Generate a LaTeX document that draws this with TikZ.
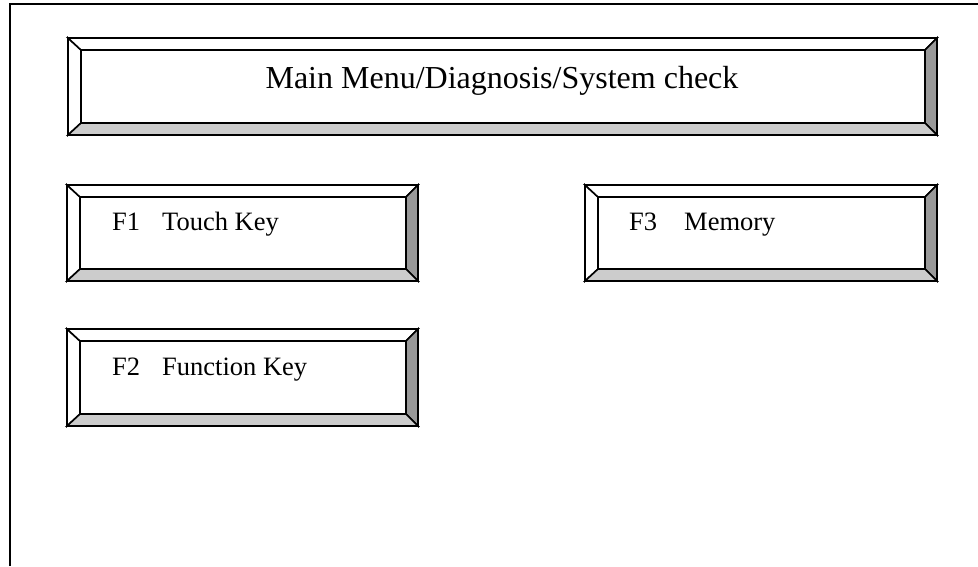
\documentclass[tikz,border=0pt]{standalone}
\usepackage{fontspec}
\setmainfont{Liberation Serif}
\usetikzlibrary{fit}
\tikzset{
  edge/.style={draw=black, line width=1.6pt, line join=miter},
  lightface/.style={edge, fill=white},
  shadeface/.style={edge, fill=black!20},
  darkface/.style={edge, fill=black!40},
  titletext/.style={font=\fontsize{32}{32}\selectfont, inner sep=0pt, anchor=base},
  keytext/.style={font=\fontsize{26.5}{26.5}\selectfont, inner sep=0pt, anchor=base west},
}
% #1 name, #2 x1, #3 y1, #4 x2, #5 y2
\newcommand\bevelbox[5]{%
  \path[lightface] (#2,#3) -- (#2+13,#3+12) -- (#2+13,#5-12) -- (#2,#5) -- cycle;
  \path[lightface] (#2,#3) -- (#4,#3) -- (#4-12,#3+12) -- (#2+13,#3+12) -- cycle;
  \path[darkface] (#4,#3) -- (#4,#5) -- (#4-12,#5-12) -- (#4-12,#3+12) -- cycle;
  \path[shadeface] (#2,#5) -- (#4,#5) -- (#4-12,#5-12) -- (#2+13,#5-12) -- cycle;
  \coordinate (#1-nw) at (#2+13,#3+12);
  \coordinate (#1-se) at (#4-12,#5-12);
  \node[edge, fill=white, fit=(#1-nw)(#1-se), inner sep=0pt] (#1) {};
}
\begin{document}
\begin{tikzpicture}[x=1pt,y=-1pt]
\useasboundingbox (0,0) rectangle (978,566);
\coordinate (fbl) at (9.5,566);
\coordinate (ftl) at (9.5,4);
\coordinate (ftr) at (978,4);
\draw[line width=2pt] (fbl) -- (ftl) -- (ftr);

\bevelbox{main}{68}{38}{937}{135}
\bevelbox{fone}{67}{185}{418}{281}
\bevelbox{fthree}{585}{185}{937}{281}
\bevelbox{ftwo}{67}{329}{418}{426}

\node[titletext] (title) at (502,88) {Main Menu/Diagnosis/System check};
\node[keytext] (k1) at (112,230) {F1};
\node[keytext] (t1) at (162,230) {Touch Key};
\node[keytext] (k2) at (112,375) {F2};
\node[keytext] (t2) at (162,375) {Function Key};
\node[keytext] (k3) at (629,230) {F3};
\node[keytext] (t3) at (684,230) {Memory};
\end{tikzpicture}
\end{document}
